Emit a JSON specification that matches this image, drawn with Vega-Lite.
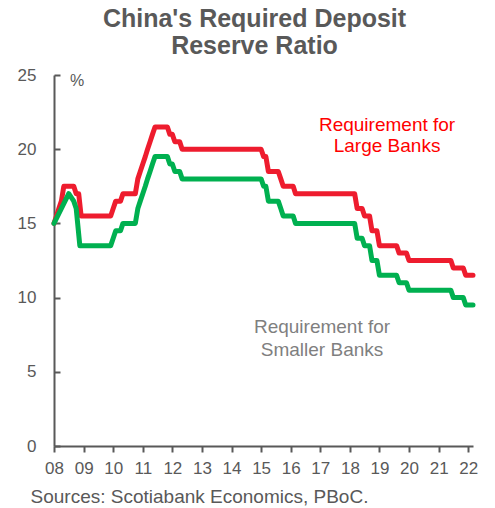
{
  "$schema": "https://vega.github.io/schema/vega-lite/v6.json",
  "width": 419,
  "height": 371,
  "autosize": {"type": "none"},
  "padding": {"left": 54, "top": 75, "right": 22, "bottom": 62},
  "config": {"font": "Liberation Sans", "view": {"stroke": null}},
  "title": {
    "text": ["China's Required Deposit", "Reserve Ratio"],
    "fontSize": 25,
    "fontWeight": "bold",
    "color": "#595959",
    "anchor": "middle",
    "dx": -9,
    "offset": 7,
    "lineHeight": 27
  },
  "datasets": {
    "rrr": [
      {"date": "2008-01-01", "series": "Large", "value": 15.0},
      {"date": "2008-02-01", "series": "Large", "value": 15.5},
      {"date": "2008-03-01", "series": "Large", "value": 16.0},
      {"date": "2008-04-01", "series": "Large", "value": 16.5},
      {"date": "2008-05-01", "series": "Large", "value": 17.5},
      {"date": "2008-09-01", "series": "Large", "value": 17.5},
      {"date": "2008-10-01", "series": "Large", "value": 17.0},
      {"date": "2008-11-01", "series": "Large", "value": 17.0},
      {"date": "2008-12-01", "series": "Large", "value": 15.5},
      {"date": "2009-12-01", "series": "Large", "value": 15.5},
      {"date": "2010-01-01", "series": "Large", "value": 16.0},
      {"date": "2010-02-01", "series": "Large", "value": 16.5},
      {"date": "2010-04-01", "series": "Large", "value": 16.5},
      {"date": "2010-05-01", "series": "Large", "value": 17.0},
      {"date": "2010-10-01", "series": "Large", "value": 17.0},
      {"date": "2010-11-01", "series": "Large", "value": 18.0},
      {"date": "2010-12-01", "series": "Large", "value": 18.5},
      {"date": "2011-01-01", "series": "Large", "value": 19.0},
      {"date": "2011-02-01", "series": "Large", "value": 19.5},
      {"date": "2011-03-01", "series": "Large", "value": 20.0},
      {"date": "2011-04-01", "series": "Large", "value": 20.5},
      {"date": "2011-05-01", "series": "Large", "value": 21.0},
      {"date": "2011-06-01", "series": "Large", "value": 21.5},
      {"date": "2011-11-01", "series": "Large", "value": 21.5},
      {"date": "2011-12-01", "series": "Large", "value": 21.0},
      {"date": "2012-01-01", "series": "Large", "value": 21.0},
      {"date": "2012-02-01", "series": "Large", "value": 20.5},
      {"date": "2012-04-01", "series": "Large", "value": 20.5},
      {"date": "2012-05-01", "series": "Large", "value": 20.0},
      {"date": "2015-01-01", "series": "Large", "value": 20.0},
      {"date": "2015-02-01", "series": "Large", "value": 19.5},
      {"date": "2015-03-01", "series": "Large", "value": 19.5},
      {"date": "2015-04-01", "series": "Large", "value": 18.5},
      {"date": "2015-08-01", "series": "Large", "value": 18.5},
      {"date": "2015-09-01", "series": "Large", "value": 18.0},
      {"date": "2015-10-01", "series": "Large", "value": 17.5},
      {"date": "2016-02-01", "series": "Large", "value": 17.5},
      {"date": "2016-03-01", "series": "Large", "value": 17.0},
      {"date": "2018-03-01", "series": "Large", "value": 17.0},
      {"date": "2018-04-01", "series": "Large", "value": 16.0},
      {"date": "2018-06-01", "series": "Large", "value": 16.0},
      {"date": "2018-07-01", "series": "Large", "value": 15.5},
      {"date": "2018-09-01", "series": "Large", "value": 15.5},
      {"date": "2018-10-01", "series": "Large", "value": 14.5},
      {"date": "2018-12-01", "series": "Large", "value": 14.5},
      {"date": "2019-01-01", "series": "Large", "value": 13.5},
      {"date": "2019-08-01", "series": "Large", "value": 13.5},
      {"date": "2019-09-01", "series": "Large", "value": 13.0},
      {"date": "2019-12-01", "series": "Large", "value": 13.0},
      {"date": "2020-01-01", "series": "Large", "value": 12.5},
      {"date": "2021-06-01", "series": "Large", "value": 12.5},
      {"date": "2021-07-01", "series": "Large", "value": 12.0},
      {"date": "2021-11-01", "series": "Large", "value": 12.0},
      {"date": "2021-12-01", "series": "Large", "value": 11.5},
      {"date": "2022-03-01", "series": "Large", "value": 11.5},
      {"date": "2008-01-01", "series": "Small", "value": 15.0},
      {"date": "2008-07-01", "series": "Small", "value": 17.0},
      {"date": "2008-09-01", "series": "Small", "value": 16.5},
      {"date": "2008-10-01", "series": "Small", "value": 16.0},
      {"date": "2008-11-15", "series": "Small", "value": 13.5},
      {"date": "2009-12-01", "series": "Small", "value": 13.5},
      {"date": "2010-01-01", "series": "Small", "value": 14.0},
      {"date": "2010-02-01", "series": "Small", "value": 14.5},
      {"date": "2010-04-01", "series": "Small", "value": 14.5},
      {"date": "2010-05-01", "series": "Small", "value": 15.0},
      {"date": "2010-10-01", "series": "Small", "value": 15.0},
      {"date": "2010-11-01", "series": "Small", "value": 16.0},
      {"date": "2010-12-01", "series": "Small", "value": 16.5},
      {"date": "2011-01-01", "series": "Small", "value": 17.0},
      {"date": "2011-02-01", "series": "Small", "value": 17.5},
      {"date": "2011-03-01", "series": "Small", "value": 18.0},
      {"date": "2011-04-01", "series": "Small", "value": 18.5},
      {"date": "2011-05-01", "series": "Small", "value": 19.0},
      {"date": "2011-06-01", "series": "Small", "value": 19.5},
      {"date": "2011-11-01", "series": "Small", "value": 19.5},
      {"date": "2011-12-01", "series": "Small", "value": 19.0},
      {"date": "2012-01-01", "series": "Small", "value": 19.0},
      {"date": "2012-02-01", "series": "Small", "value": 18.5},
      {"date": "2012-04-01", "series": "Small", "value": 18.5},
      {"date": "2012-05-01", "series": "Small", "value": 18.0},
      {"date": "2015-01-01", "series": "Small", "value": 18.0},
      {"date": "2015-02-01", "series": "Small", "value": 17.5},
      {"date": "2015-03-01", "series": "Small", "value": 17.5},
      {"date": "2015-04-01", "series": "Small", "value": 16.5},
      {"date": "2015-08-01", "series": "Small", "value": 16.5},
      {"date": "2015-09-01", "series": "Small", "value": 16.0},
      {"date": "2015-10-01", "series": "Small", "value": 15.5},
      {"date": "2016-02-01", "series": "Small", "value": 15.5},
      {"date": "2016-03-01", "series": "Small", "value": 15.0},
      {"date": "2018-03-01", "series": "Small", "value": 15.0},
      {"date": "2018-04-01", "series": "Small", "value": 14.0},
      {"date": "2018-06-01", "series": "Small", "value": 14.0},
      {"date": "2018-07-01", "series": "Small", "value": 13.5},
      {"date": "2018-09-01", "series": "Small", "value": 13.5},
      {"date": "2018-10-01", "series": "Small", "value": 12.5},
      {"date": "2018-12-01", "series": "Small", "value": 12.5},
      {"date": "2019-01-01", "series": "Small", "value": 11.5},
      {"date": "2019-08-01", "series": "Small", "value": 11.5},
      {"date": "2019-09-01", "series": "Small", "value": 11.0},
      {"date": "2019-12-01", "series": "Small", "value": 11.0},
      {"date": "2020-01-01", "series": "Small", "value": 10.5},
      {"date": "2021-06-01", "series": "Small", "value": 10.5},
      {"date": "2021-07-01", "series": "Small", "value": 10.0},
      {"date": "2021-11-01", "series": "Small", "value": 10.0},
      {"date": "2021-12-01", "series": "Small", "value": 9.5},
      {"date": "2022-03-01", "series": "Small", "value": 9.5}
    ],
    "labelsLarge": [
      {"date": "2019-04-05", "value": 21.63, "label": "Requirement for"},
      {"date": "2019-04-05", "value": 20.22, "label": "Large Banks"}
    ],
    "labelsSmall": [
      {"date": "2017-01-22", "value": 8.02, "label": "Requirement for"},
      {"date": "2017-01-22", "value": 6.47, "label": "Smaller Banks"}
    ]
  },
  "encoding": {
    "x": {
      "field": "date",
      "type": "temporal",
      "scale": {
        "type": "utc",
        "nice": false,
        "domain": [
          {"year": 2008, "month": 1, "date": 1, "utc": true},
          {"year": 2022, "month": 3, "date": 1, "utc": true}
        ]
      },
      "axis": {
        "values": [
          {"year": 2008, "month": 1, "date": 1, "utc": true},
          {"year": 2009, "month": 1, "date": 1, "utc": true},
          {"year": 2010, "month": 1, "date": 1, "utc": true},
          {"year": 2011, "month": 1, "date": 1, "utc": true},
          {"year": 2012, "month": 1, "date": 1, "utc": true},
          {"year": 2013, "month": 1, "date": 1, "utc": true},
          {"year": 2014, "month": 1, "date": 1, "utc": true},
          {"year": 2015, "month": 1, "date": 1, "utc": true},
          {"year": 2016, "month": 1, "date": 1, "utc": true},
          {"year": 2017, "month": 1, "date": 1, "utc": true},
          {"year": 2018, "month": 1, "date": 1, "utc": true},
          {"year": 2019, "month": 1, "date": 1, "utc": true},
          {"year": 2020, "month": 1, "date": 1, "utc": true},
          {"year": 2021, "month": 1, "date": 1, "utc": true},
          {"year": 2022, "month": 1, "date": 1, "utc": true}
        ],
        "format": "%y",
        "grid": false,
        "labelFlush": false,
        "labelOverlap": false,
        "labelSeparation": 0,
        "labelFontSize": 17,
        "labelColor": "#595959",
        "labelPadding": 8,
        "domainColor": "#595959",
        "domainWidth": 2,
        "tickColor": "#595959",
        "tickWidth": 2,
        "tickSize": 6,
        "title": "Sources: Scotiabank Economics, PBoC.",
        "titleFontSize": 19,
        "titleFontWeight": "normal",
        "titleColor": "#595959",
        "titleAlign": "left",
        "titleBaseline": "alphabetic",
        "titleX": -24,
        "titleY": 56
      }
    },
    "y": {
      "field": "value",
      "type": "quantitative",
      "scale": {"domain": [0, 25], "nice": false},
      "axis": {
        "values": [0, 5, 10, 15, 20, 25],
        "grid": false,
        "labelFlush": false,
        "labelFontSize": 17,
        "labelColor": "#595959",
        "labelPadding": 24,
        "domainColor": "#595959",
        "domainWidth": 2,
        "tickColor": "#595959",
        "tickWidth": 2,
        "tickSize": -6,
        "title": "%",
        "titleAngle": 0,
        "titleX": 22.5,
        "titleY": 5.5,
        "titleAlign": "center",
        "titleBaseline": "middle",
        "titleFontSize": 16,
        "titleFontWeight": "normal",
        "titleColor": "#595959"
      }
    }
  },
  "layer": [
    {
      "data": {"name": "rrr"},
      "mark": {"type": "line", "strokeWidth": 5, "strokeCap": "round", "strokeJoin": "round"},
      "encoding": {
        "color": {
          "field": "series",
          "type": "nominal",
          "scale": {"domain": ["Large", "Small"], "range": ["#EE1C2E", "#00B050"]},
          "legend": null
        }
      }
    },
    {
      "data": {"name": "labelsLarge"},
      "mark": {"type": "text", "color": "#FF0000", "fontSize": 19, "align": "center", "baseline": "middle"},
      "encoding": {
        "text": {"field": "label"}
      }
    },
    {
      "data": {"name": "labelsSmall"},
      "mark": {"type": "text", "color": "#7F7F7F", "fontSize": 19, "align": "center", "baseline": "middle"},
      "encoding": {
        "text": {"field": "label"}
      }
    }
  ]
}
